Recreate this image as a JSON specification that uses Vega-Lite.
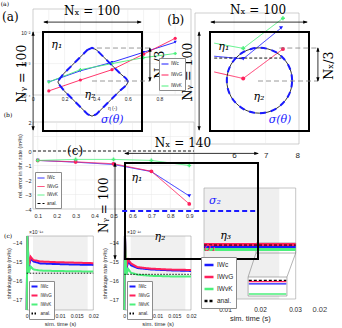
{
"$schema":"https://vega.github.io/schema/vega-lite/v6.json",
"width":342,"height":328,"autosize":"none","padding":0,"background":"white",
"config":{"view":{"stroke":null},
 "axis":{"labelFont":"Liberation Sans","titleFont":"Liberation Sans","labelColor":"#262626","titleColor":"#262626","domain":false,"grid":false,"tickSize":0,"labelFlush":false,"labelOverlap":false,"labelPadding":1.5,"titleFontWeight":"normal"},
 "legend":{"orient":"none","title":null,"symbolType":"stroke","labelFont":"Liberation Sans","labelColor":"#262626","fillColor":"white","strokeColor":"#8c8c8c","labelOffset":2}},
"datasets":{
 "a":[{"s":"IWc","x":0.1,"y":0.00026},{"s":"IWc","x":0.3,"y":0.00059},{"s":"IWc","x":0.5,"y":0.0011},{"s":"IWc","x":0.7,"y":0.0023},{"s":"IWc","x":0.9,"y":0.0048},
  {"s":"IWvG","x":0.1,"y":0.000135},{"s":"IWvG","x":0.3,"y":0.0003},{"s":"IWvG","x":0.5,"y":0.00064},{"s":"IWvG","x":0.7,"y":0.002},{"s":"IWvG","x":0.9,"y":0.0064},
  {"s":"IWvK","x":0.1,"y":0.00026},{"s":"IWvK","x":0.3,"y":0.00064},{"s":"IWvK","x":0.5,"y":0.001},{"s":"IWvK","x":0.7,"y":0.00155},{"s":"IWvK","x":0.9,"y":0.0021}],
 "gA":[{"d":"x","v":0.1},{"d":"x","v":0.2},{"d":"x","v":0.3},{"d":"x","v":0.4},{"d":"x","v":0.5},{"d":"x","v":0.6},{"d":"x","v":0.7},{"d":"x","v":0.8},{"d":"x","v":0.9},{"d":"y","v":0.001},{"d":"y","v":0.01}],
 "r":[{"s":"IWvK","x":5.37,"y":0.77},{"s":"IWvK","x":6.29,"y":0.73},{"s":"IWvK","x":7.55,"y":0.96},
  {"s":"IWc","x":5.37,"y":0.67},{"s":"IWc","x":6.29,"y":0.65},{"s":"IWc","x":7.49,"y":0.885},
  {"s":"IWvG","x":5.37,"y":0.55},{"s":"IWvG","x":6.29,"y":0.5},{"s":"IWvG","x":7.55,"y":0.725},
  {"s":"anal.","x":5.37,"y":0.656},{"s":"anal.","x":7.5,"y":0.656}],
 "gR":[{"v":6},{"v":7}],
 "b":[{"s":"IWc","x":0.1,"y":-0.65},{"s":"IWc","x":0.3,"y":-0.77},{"s":"IWc","x":0.5,"y":-0.93},{"s":"IWc","x":0.7,"y":-1.42},{"s":"IWc","x":0.9,"y":-3.1},
  {"s":"IWvG","x":0.1,"y":-0.65},{"s":"IWvG","x":0.3,"y":-0.75},{"s":"IWvG","x":0.5,"y":-0.88},{"s":"IWvG","x":0.7,"y":-1.4},{"s":"IWvG","x":0.9,"y":-3.65},
  {"s":"IWvK","x":0.1,"y":-0.65},{"s":"IWvK","x":0.3,"y":-0.58},{"s":"IWvK","x":0.5,"y":-0.58},{"s":"IWvK","x":0.7,"y":-0.65},{"s":"IWvK","x":0.9,"y":-1.0},
  {"s":"anal.","x":0.075,"y":0},{"s":"anal.","x":0.925,"y":0}],
 "gB":[{"d":"x","v":0.1},{"d":"x","v":0.2},{"d":"x","v":0.3},{"d":"x","v":0.4},{"d":"x","v":0.5},{"d":"x","v":0.6},{"d":"x","v":0.7},{"d":"x","v":0.8},{"d":"x","v":0.9},{"d":"y","v":-3},{"d":"y","v":-2},{"d":"y","v":-1},{"d":"y","v":0},{"d":"y","v":1}],
 "c":[{"s":"IWc","x":0,"y":-18},{"s":"IWc","x":0.0002,"y":-13},{"s":"IWc","x":0.0006,"y":-15.3},{"s":"IWc","x":0.0012,"y":-14.85},{"s":"IWc","x":0.002,"y":-15.0},{"s":"IWc","x":0.004,"y":-15.1},{"s":"IWc","x":0.008,"y":-15.13},{"s":"IWc","x":0.014,"y":-15.16},{"s":"IWc","x":0.02,"y":-15.18},
  {"s":"IWvG","x":0,"y":-18},{"s":"IWvG","x":0.0002,"y":-13},{"s":"IWvG","x":0.0006,"y":-15.2},{"s":"IWvG","x":0.0012,"y":-14.75},{"s":"IWvG","x":0.002,"y":-14.92},{"s":"IWvG","x":0.004,"y":-15.0},{"s":"IWvG","x":0.008,"y":-15.03},{"s":"IWvG","x":0.014,"y":-15.06},{"s":"IWvG","x":0.02,"y":-15.09},
  {"s":"IWvK","x":0,"y":-18},{"s":"IWvK","x":0.0002,"y":-13},{"s":"IWvK","x":0.0006,"y":-15.6},{"s":"IWvK","x":0.0012,"y":-15.27},{"s":"IWvK","x":0.002,"y":-15.42},{"s":"IWvK","x":0.004,"y":-15.48},{"s":"IWvK","x":0.008,"y":-15.5},{"s":"IWvK","x":0.014,"y":-15.52},{"s":"IWvK","x":0.02,"y":-15.53},
  {"s":"anal.","x":0,"y":-15.62},{"s":"anal.","x":0.02,"y":-15.62}],
 "c2":[{"s":"IWc","x":0,"y":-18},{"s":"IWc","x":0.0002,"y":-13},{"s":"IWc","x":0.0006,"y":-15.4},{"s":"IWc","x":0.0012,"y":-15.0},{"s":"IWc","x":0.002,"y":-15.2},{"s":"IWc","x":0.004,"y":-15.35},{"s":"IWc","x":0.008,"y":-15.42},{"s":"IWc","x":0.014,"y":-15.47},{"s":"IWc","x":0.02,"y":-15.5},
  {"s":"IWvG","x":0,"y":-18},{"s":"IWvG","x":0.0002,"y":-13},{"s":"IWvG","x":0.0006,"y":-15.3},{"s":"IWvG","x":0.0012,"y":-14.9},{"s":"IWvG","x":0.002,"y":-15.1},{"s":"IWvG","x":0.004,"y":-15.3},{"s":"IWvG","x":0.008,"y":-15.38},{"s":"IWvG","x":0.014,"y":-15.43},{"s":"IWvG","x":0.02,"y":-15.45},
  {"s":"IWvK","x":0,"y":-18},{"s":"IWvK","x":0.0002,"y":-13},{"s":"IWvK","x":0.0006,"y":-15.7},{"s":"IWvK","x":0.0012,"y":-15.4},{"s":"IWvK","x":0.002,"y":-15.6},{"s":"IWvK","x":0.004,"y":-15.7},{"s":"IWvK","x":0.008,"y":-15.76},{"s":"IWvK","x":0.014,"y":-15.79},{"s":"IWvK","x":0.02,"y":-15.8},
  {"s":"anal.","x":0,"y":-15.68},{"s":"anal.","x":0.02,"y":-15.68}],
 "d":[{"s":"IWc","x":0.004,"y":0.473},{"s":"IWc","x":0.0302,"y":0.473},{"s":"IWvG","x":0.004,"y":0.491},{"s":"IWvG","x":0.0302,"y":0.491},{"s":"IWvK","x":0.004,"y":0.446},{"s":"IWvK","x":0.0302,"y":0.446},{"s":"anal.","x":0.004,"y":0.486},{"s":"anal.","x":0.0302,"y":0.486}],
 "dinset":[{"s":"IWvK","y":0.045},{"s":"IWc","y":0.137},{"s":"IWvG","y":0.156},{"s":"anal.","y":0.168}],
 "dconn":[{"x":0.0166,"y":0.198,"x2":0.01886,"y2":0.414},{"x":0.0277,"y":0.198,"x2":0.0302,"y2":0.414}],
 "diamond":[{"i":0,"x":45,"y":82},{"i":1,"x":49.5,"y":84},{"i":2,"x":54,"y":82},{"i":3,"x":62,"y":74},{"i":4,"x":70,"y":66},{"i":5,"x":78,"y":58},{"i":6,"x":84,"y":53},{"i":7,"x":86,"y":49.5},{"i":8,"x":84,"y":46},{"i":9,"x":78,"y":41},{"i":10,"x":70,"y":33},{"i":11,"x":62,"y":25},{"i":12,"x":54,"y":17},{"i":13,"x":49.5,"y":15},{"i":14,"x":45,"y":17},{"i":15,"x":37,"y":25},{"i":16,"x":29,"y":33},{"i":17,"x":21,"y":41},{"i":18,"x":17,"y":46},{"i":19,"x":15,"y":49.5},{"i":20,"x":17,"y":53},{"i":21,"x":21,"y":58},{"i":22,"x":29,"y":66},{"i":23,"x":37,"y":74},{"i":24,"x":45,"y":82}],
 "circle":[{"i":0,"x":83,"y":51},{"i":1,"x":81.9,"y":59.5},{"i":2,"x":78.6,"y":67.5},{"i":3,"x":73.3,"y":74.3},{"i":4,"x":66.5,"y":79.6},{"i":5,"x":58.5,"y":82.9},{"i":6,"x":50,"y":84},{"i":7,"x":41.5,"y":82.9},{"i":8,"x":33.5,"y":79.6},{"i":9,"x":26.7,"y":74.3},{"i":10,"x":21.4,"y":67.5},{"i":11,"x":18.1,"y":59.5},{"i":12,"x":17,"y":51},{"i":13,"x":18.1,"y":42.5},{"i":14,"x":21.4,"y":34.5},{"i":15,"x":26.7,"y":27.7},{"i":16,"x":33.5,"y":22.4},{"i":17,"x":41.5,"y":19.1},{"i":18,"x":50,"y":18},{"i":19,"x":58.5,"y":19.1},{"i":20,"x":66.5,"y":22.4},{"i":21,"x":73.3,"y":27.7},{"i":22,"x":78.6,"y":34.5},{"i":23,"x":81.9,"y":42.5},{"i":24,"x":83,"y":51}],
 "tA":[{"k":"eta","x":14,"y":87,"t":"η₁"},{"k":"eta","x":47.5,"y":36,"t":"η₂"},{"k":"sig","x":70,"y":11,"t":"σ(θ)"},{"k":"big","x":49.5,"y":121,"t":"Nₓ = 100"},{"k":"big","x":-33,"y":115,"t":"(a)"},{"k":"rot","x":-21,"y":58,"t":"Nᵧ = 100"},{"k":"rot","x":118,"y":67,"t":"Nₓ/3"},{"k":"small","x":-38.5,"y":128,"t":"(a)"}],
 "tB":[{"k":"eta","x":14,"y":85,"t":"η₁"},{"k":"eta","x":49.5,"y":34,"t":"η₂"},{"k":"sig","x":70.7,"y":11,"t":"σ(θ)"},{"k":"big","x":48.5,"y":122,"t":"Nₓ = 100"},{"k":"big","x":-34.6,"y":112,"t":"(b)"},{"k":"rot","x":-22,"y":60,"t":"Nᵧ = 100"},{"k":"rot","x":120,"y":66,"t":"Nₓ/3"}],
 "tC":[{"k":"eta","x":12.6,"y":84.4,"t":"η₁"},{"k":"eta","x":36.8,"y":23,"t":"η₂"},{"k":"eta","x":106,"y":24,"t":"η₃"},{"k":"sig","x":94.7,"y":60.4,"t":"σ₂"},{"k":"sigr","x":89.5,"y":11.5,"t":"σ₁"},{"k":"big","x":61,"y":120.8,"t":"Nₓ = 140"},{"k":"big","x":-52.6,"y":112.5,"t":"(c)"},{"k":"rot","x":-22,"y":56,"t":"Nᵧ = 100"}],
 "rA":[{"k":"dash","x":54.5,"y":83.8,"x2":108,"y2":83.8},{"k":"dash","x":49.5,"y":50.5,"x2":108,"y2":50.5},{"k":"arrow","x":1,"y":110,"x2":99,"y2":110},{"k":"arrow","x":-10,"y":100,"x2":-10,"y2":1},{"k":"arrow","x":108,"y":83.8,"x2":108,"y2":50.5}],
 "hA":[{"h":"L","x":2.5,"y":110},{"h":"R","x":97.5,"y":110},{"h":"U","x":-10,"y":98.5},{"h":"D","x":-10,"y":2.5},{"h":"U","x":108,"y":82.3},{"h":"D","x":108,"y":52}],
 "rB":[{"k":"dash","x":70,"y":83.8,"x2":109,"y2":83.8},{"k":"dash","x":48.5,"y":50.5,"x2":109,"y2":50.5},{"k":"arrow","x":1,"y":110,"x2":98,"y2":110},{"k":"arrow","x":-11,"y":100,"x2":-11,"y2":1},{"k":"arrow","x":109,"y":83.8,"x2":109,"y2":50.5}],
 "hB":[{"h":"L","x":2.5,"y":110},{"h":"R","x":96.5,"y":110},{"h":"U","x":-11,"y":98.5},{"h":"D","x":-11,"y":2.5},{"h":"U","x":109,"y":82.3},{"h":"D","x":109,"y":52}],
 "rC":[{"k":"sig","x":-3,"y":50,"x2":140,"y2":50},{"k":"arrow","x":0,"y":110,"x2":140,"y2":110},{"k":"arrow","x":-10.5,"y":100,"x2":-10.5,"y2":0}],
 "hC":[{"h":"L","x":1.5,"y":110},{"h":"R","x":138.5,"y":110},{"h":"U","x":-10.5,"y":98.5},{"h":"D","x":-10.5,"y":1.5}]
},
"layer":[
 {"layer":[
  {"data":{"values":[{}]},"mark":{"type":"rect","filled":false,"stroke":"#b0b0b0","strokeWidth":0.6},
   "encoding":{"x":{"datum":0,"type":"quantitative","scale":{"domain":[0,1],"range":[33,191],"nice":false,"zero":false},"axis":{"orient":"bottom","offset":-233,"values":[0,0.1,0.2,0.3,0.4,0.5,0.6,0.7,0.8,0.9,1],"format":"~g","labelFontSize":5,"labelPadding":1.5,"title":"η (-)","titleFontSize":5,"titlePadding":4}},
    "x2":{"datum":1},
    "y":{"datum":0.0001,"type":"quantitative","scale":{"type":"log","domain":[0.0001,0.055],"range":[95,9],"nice":false},"axis":{"orient":"left","offset":-33,"values":[0.0001,0.001,0.01],"labelExpr":"datum.value < 0.0005 ? '10⁻⁴' : (datum.value < 0.005 ? '10⁻³' : '10⁻²')","labelFontSize":5,"labelPadding":3,"title":null}},
    "y2":{"datum":0.055}}},
  {"data":{"name":"gA"},"transform":[{"filter":"datum.d == 'x'"}],"mark":{"type":"rule","stroke":"#e6e6e6","strokeWidth":0.5},
   "encoding":{"x":{"field":"v","type":"quantitative","scale":{"domain":[0,1],"range":[33,191],"nice":false,"zero":false}},
    "y":{"datum":0.0001,"type":"quantitative","scale":{"type":"log","domain":[0.0001,0.055],"range":[95,9],"nice":false}},"y2":{"datum":0.055}}},
  {"data":{"name":"gA"},"transform":[{"filter":"datum.d == 'y'"}],"mark":{"type":"rule","stroke":"#e6e6e6","strokeWidth":0.5},
   "encoding":{"y":{"field":"v","type":"quantitative","scale":{"type":"log","domain":[0.0001,0.055],"range":[95,9],"nice":false}},
    "x":{"datum":0,"type":"quantitative","scale":{"domain":[0,1],"range":[33,191],"nice":false,"zero":false}},"x2":{"datum":1}}},
  {"data":{"name":"a"},"mark":{"type":"line","strokeWidth":0.9},
   "encoding":{"x":{"field":"x","type":"quantitative","scale":{"domain":[0,1],"range":[33,191],"nice":false,"zero":false}},
    "y":{"field":"y","type":"quantitative","scale":{"type":"log","domain":[0.0001,0.055],"range":[95,9],"nice":false}},
    "color":{"field":"s","type":"nominal","scale":{"domain":["IWc","IWvG","IWvK"],"range":["#1a1aff","#ff1f5b","#4cf07c"]},"legend":{"legendX":159,"legendY":58,"labelFontSize":4.5,"rowPadding":5,"padding":2,"symbolSize":49,"symbolStrokeWidth":1}}}},
  {"data":{"name":"a"},"transform":[{"filter":"datum.s == 'IWc'"}],"mark":{"type":"point","filled":true,"size":10,"opacity":1,"shape":"triangle-down","color":"#1a1aff"},
   "encoding":{"x":{"field":"x","type":"quantitative","scale":{"domain":[0,1],"range":[33,191],"nice":false,"zero":false}},
    "y":{"field":"y","type":"quantitative","scale":{"type":"log","domain":[0.0001,0.055],"range":[95,9],"nice":false}}}},
  {"data":{"name":"a"},"transform":[{"filter":"datum.s == 'IWvG'"}],"mark":{"type":"point","filled":true,"size":10,"opacity":1,"shape":"circle","color":"#ff1f5b"},
   "encoding":{"x":{"field":"x","type":"quantitative","scale":{"domain":[0,1],"range":[33,191],"nice":false,"zero":false}},
    "y":{"field":"y","type":"quantitative","scale":{"type":"log","domain":[0.0001,0.055],"range":[95,9],"nice":false}}}},
  {"data":{"name":"a"},"transform":[{"filter":"datum.s == 'IWvK'"}],"mark":{"type":"point","filled":true,"size":10,"opacity":1,"shape":"cross","color":"#4cf07c"},
   "encoding":{"x":{"field":"x","type":"quantitative","scale":{"domain":[0,1],"range":[33,191],"nice":false,"zero":false}},
    "y":{"field":"y","type":"quantitative","scale":{"type":"log","domain":[0.0001,0.055],"range":[95,9],"nice":false}}}}
 ]},
 {"layer":[
  {"data":{"values":[{}]},"mark":{"type":"rect","filled":false,"stroke":"#b0b0b0","strokeWidth":0.6},
   "encoding":{"x":{"datum":4.76,"type":"quantitative","scale":{"domain":[4.76,8.06],"range":[195,299],"nice":false,"zero":false},"axis":{"orient":"bottom","offset":-184,"values":[6,7,8],"format":"d","labelFontSize":8,"labelPadding":7,"title":null}},
    "x2":{"datum":8.06},
    "y":{"datum":0,"type":"quantitative","scale":{"domain":[0,1],"range":[144,13],"nice":false,"zero":false},"axis":null},
    "y2":{"datum":1}}},
  {"data":{"name":"gR"},"mark":{"type":"rule","stroke":"#e6e6e6","strokeWidth":0.5},
   "encoding":{"x":{"field":"v","type":"quantitative","scale":{"domain":[4.76,8.06],"range":[195,299],"nice":false,"zero":false}},
    "y":{"datum":0,"type":"quantitative","scale":{"domain":[0,1],"range":[144,13],"nice":false,"zero":false},"axis":null},"y2":{"datum":1}}},
  {"data":{"name":"r"},"mark":{"type":"line","strokeWidth":0.9},
   "encoding":{"x":{"field":"x","type":"quantitative","scale":{"domain":[4.76,8.06],"range":[195,299],"nice":false,"zero":false}},
    "y":{"field":"y","type":"quantitative","scale":{"domain":[0,1],"range":[144,13],"nice":false,"zero":false},"axis":null},
    "color":{"field":"s","type":"nominal","scale":{"domain":["IWc","IWvG","IWvK","anal."],"range":["#1a1aff","#ff1f5b","#4cf07c","#000000"]},"legend":null},
    "strokeDash":{"field":"s","type":"nominal","scale":{"domain":["IWc","IWvG","IWvK","anal."],"range":[[1,0],[1,0],[1,0],[3,2]]},"legend":null}}},
  {"data":{"name":"r"},"transform":[{"filter":"datum.x > 6 && datum.s == 'IWc'"}],"mark":{"type":"point","filled":true,"size":16,"opacity":1,"shape":"triangle-down","color":"#1a1aff"},
   "encoding":{"x":{"field":"x","type":"quantitative","scale":{"domain":[4.76,8.06],"range":[195,299],"nice":false,"zero":false}},
    "y":{"field":"y","type":"quantitative","scale":{"domain":[0,1],"range":[144,13],"nice":false,"zero":false},"axis":null}}},
  {"data":{"name":"r"},"transform":[{"filter":"datum.x > 6 && datum.s == 'IWvG'"}],"mark":{"type":"point","filled":true,"size":16,"opacity":1,"shape":"circle","color":"#ff1f5b"},
   "encoding":{"x":{"field":"x","type":"quantitative","scale":{"domain":[4.76,8.06],"range":[195,299],"nice":false,"zero":false}},
    "y":{"field":"y","type":"quantitative","scale":{"domain":[0,1],"range":[144,13],"nice":false,"zero":false},"axis":null}}},
  {"data":{"name":"r"},"transform":[{"filter":"datum.x > 6 && datum.s == 'IWvK'"}],"mark":{"type":"point","filled":true,"size":16,"opacity":1,"shape":"cross","color":"#4cf07c"},
   "encoding":{"x":{"field":"x","type":"quantitative","scale":{"domain":[4.76,8.06],"range":[195,299],"nice":false,"zero":false}},
    "y":{"field":"y","type":"quantitative","scale":{"domain":[0,1],"range":[144,13],"nice":false,"zero":false},"axis":null}}}
 ]},
 {"layer":[
  {"data":{"values":[{}]},"mark":{"type":"rect","filled":false,"stroke":"#b0b0b0","strokeWidth":0.6},
   "encoding":{"x":{"datum":0.075,"type":"quantitative","scale":{"domain":[0.075,0.925],"range":[33,194],"nice":false,"zero":false},"axis":{"orient":"bottom","offset":-119,"values":[0.1,0.2,0.3,0.4,0.5,0.6,0.7,0.8,0.9],"format":".1f","labelFontSize":5.5,"labelPadding":4,"title":null}},
    "x2":{"datum":0.925},
    "y":{"datum":-4,"type":"quantitative","scale":{"domain":[-4,2],"range":[209,122],"nice":false,"zero":false},"axis":{"orient":"left","offset":-33,"values":[-4,-3,-2,-1,0,1,2],"format":"d","labelExpr":"datum.value == 1 ? '' : datum.label","labelFontSize":5.5,"labelPadding":2,"title":"rel. error in shr. rate (m²/s)","titleFontSize":5.5,"titlePadding":2}},
    "y2":{"datum":2}}},
  {"data":{"name":"gB"},"transform":[{"filter":"datum.d == 'x'"}],"mark":{"type":"rule","stroke":"#e6e6e6","strokeWidth":0.5},
   "encoding":{"x":{"field":"v","type":"quantitative","scale":{"domain":[0.075,0.925],"range":[33,194],"nice":false,"zero":false}},
    "y":{"datum":-4,"type":"quantitative","scale":{"domain":[-4,2],"range":[209,122],"nice":false,"zero":false}},"y2":{"datum":2}}},
  {"data":{"name":"gB"},"transform":[{"filter":"datum.d == 'y'"}],"mark":{"type":"rule","stroke":"#e6e6e6","strokeWidth":0.5},
   "encoding":{"y":{"field":"v","type":"quantitative","scale":{"domain":[-4,2],"range":[209,122],"nice":false,"zero":false}},
    "x":{"datum":0.075,"type":"quantitative","scale":{"domain":[0.075,0.925],"range":[33,194],"nice":false,"zero":false}},"x2":{"datum":0.925}}},
  {"data":{"name":"b"},"mark":{"type":"line","strokeWidth":0.9},
   "encoding":{"x":{"field":"x","type":"quantitative","scale":{"domain":[0.075,0.925],"range":[33,194],"nice":false,"zero":false}},
    "y":{"field":"y","type":"quantitative","scale":{"domain":[-4,2],"range":[209,122],"nice":false,"zero":false}},
    "color":{"field":"s","type":"nominal","scale":{"domain":["IWc","IWvG","IWvK","anal."],"range":["#1a1aff","#ff1f5b","#4cf07c","#000000"]},"legend":{"legendX":35,"legendY":172,"labelFontSize":4.5,"rowPadding":2.5,"padding":2,"symbolSize":49,"symbolStrokeWidth":1}},
    "strokeDash":{"field":"s","type":"nominal","scale":{"domain":["IWc","IWvG","IWvK","anal."],"range":[[1,0],[1,0],[1,0],[3,2]]},"legend":{"legendX":35,"legendY":172,"labelFontSize":4.5,"rowPadding":2.5,"padding":2,"symbolSize":49,"symbolStrokeWidth":1}}}},
  {"data":{"name":"b"},"transform":[{"filter":"datum.s == 'IWc'"}],"mark":{"type":"point","filled":true,"size":14,"opacity":1,"shape":"triangle-down","color":"#1a1aff"},
   "encoding":{"x":{"field":"x","type":"quantitative","scale":{"domain":[0.075,0.925],"range":[33,194],"nice":false,"zero":false}},
    "y":{"field":"y","type":"quantitative","scale":{"domain":[-4,2],"range":[209,122],"nice":false,"zero":false}}}},
  {"data":{"name":"b"},"transform":[{"filter":"datum.s == 'IWvG'"}],"mark":{"type":"point","filled":true,"size":14,"opacity":1,"shape":"circle","color":"#ff1f5b"},
   "encoding":{"x":{"field":"x","type":"quantitative","scale":{"domain":[0.075,0.925],"range":[33,194],"nice":false,"zero":false}},
    "y":{"field":"y","type":"quantitative","scale":{"domain":[-4,2],"range":[209,122],"nice":false,"zero":false}}}},
  {"data":{"name":"b"},"transform":[{"filter":"datum.s == 'IWvK'"}],"mark":{"type":"point","filled":true,"size":14,"opacity":1,"shape":"cross","color":"#4cf07c"},
   "encoding":{"x":{"field":"x","type":"quantitative","scale":{"domain":[0.075,0.925],"range":[33,194],"nice":false,"zero":false}},
    "y":{"field":"y","type":"quantitative","scale":{"domain":[-4,2],"range":[209,122],"nice":false,"zero":false}}}},
  {"data":{"values":[{}]},"mark":{"type":"text","text":"(b)","font":"DejaVu Serif","fontSize":6},
   "encoding":{"x":{"datum":-0.057,"type":"quantitative","scale":{"domain":[0.075,0.925],"range":[33,194],"nice":false,"zero":false}},
    "y":{"datum":2.48,"type":"quantitative","scale":{"domain":[-4,2],"range":[209,122],"nice":false,"zero":false}}}}
 ]},
 {"layer":[
  {"data":{"values":[{}]},"mark":{"type":"rect","fill":"#f0f0f0"},
   "encoding":{"x":{"datum":0.0019,"type":"quantitative","scale":{"domain":[0,0.02],"range":[26.7,93.3],"nice":false,"zero":false},"axis":{"orient":"bottom","offset":-18,"values":[0,0.005,0.01,0.015,0.02],"format":"~g","labelFontSize":5.2,"labelPadding":3,"title":"sim. time (s)","titleFontSize":5.8,"titlePadding":2}},
    "x2":{"datum":0.0183},
    "y":{"datum":-17.57,"type":"quantitative","scale":{"domain":[-17.57,-13.65],"range":[310,236],"nice":false,"zero":false,"clamp":true},"axis":{"orient":"left","offset":-26.7,"values":[-17,-16,-15,-14],"format":"d","labelFontSize":5.5,"labelPadding":5,"title":"shrinkage rate (m²/s)","titleFontSize":5.5,"titlePadding":0.5}},
    "y2":{"datum":-13.65}}},
  {"data":{"values":[{}]},"mark":{"type":"rect","filled":false,"stroke":"#a0a0a0","strokeWidth":0.6},
   "encoding":{"x":{"datum":0,"type":"quantitative","scale":{"domain":[0,0.02],"range":[26.7,93.3],"nice":false,"zero":false}},
    "x2":{"datum":0.02},
    "y":{"datum":-17.57,"type":"quantitative","scale":{"domain":[-17.57,-13.65],"range":[310,236],"nice":false,"zero":false,"clamp":true}},
    "y2":{"datum":-13.65}}},
  {"data":{"name":"c"},"transform":[{"filter":"datum.s != 'anal.'"}],"mark":{"type":"line","strokeWidth":2},
   "encoding":{"x":{"field":"x","type":"quantitative","scale":{"domain":[0,0.02],"range":[26.7,93.3],"nice":false,"zero":false}},
    "y":{"field":"y","type":"quantitative","scale":{"domain":[-17.57,-13.65],"range":[310,236],"nice":false,"zero":false,"clamp":true}},
    "color":{"field":"s","type":"nominal","scale":{"domain":["IWc","IWvG","IWvK","anal."],"range":["#1a1aff","#ff1f5b","#4cf07c","#000000"]},"legend":{"legendX":29,"legendY":281,"labelFontSize":4.5,"rowPadding":1,"padding":1.5,"symbolSize":36,"symbolStrokeWidth":2}},
    "strokeDash":{"field":"s","type":"nominal","scale":{"domain":["IWc","IWvG","IWvK","anal."],"range":[[1,0],[1,0],[1,0],[1.5,1.5]]},"legend":{"legendX":29,"legendY":281,"labelFontSize":4.5,"rowPadding":1,"padding":1.5,"symbolSize":36,"symbolStrokeWidth":2}}}},
  {"data":{"name":"c"},"transform":[{"filter":"datum.s == 'anal.'"}],"mark":{"type":"line","strokeWidth":0.9},
   "encoding":{"x":{"field":"x","type":"quantitative","scale":{"domain":[0,0.02],"range":[26.7,93.3],"nice":false,"zero":false}},
    "y":{"field":"y","type":"quantitative","scale":{"domain":[-17.57,-13.65],"range":[310,236],"nice":false,"zero":false,"clamp":true}},
    "color":{"field":"s","type":"nominal","scale":{"domain":["IWc","IWvG","IWvK","anal."],"range":["#1a1aff","#ff1f5b","#4cf07c","#000000"]},"legend":{"legendX":29,"legendY":281,"labelFontSize":4.5,"rowPadding":1,"padding":1.5,"symbolSize":36,"symbolStrokeWidth":2}},
    "strokeDash":{"field":"s","type":"nominal","scale":{"domain":["IWc","IWvG","IWvK","anal."],"range":[[1,0],[1,0],[1,0],[1.5,1.5]]},"legend":{"legendX":29,"legendY":281,"labelFontSize":4.5,"rowPadding":1,"padding":1.5,"symbolSize":36,"symbolStrokeWidth":2}}}},
  {"data":{"values":[{}]},"mark":{"type":"text","text":"(c)","font":"DejaVu Serif","fontSize":6},
   "encoding":{"x":{"datum":-0.0056,"type":"quantitative","scale":{"domain":[0,0.02],"range":[26.7,93.3],"nice":false,"zero":false}},
    "y":{"datum":-13.65,"type":"quantitative","scale":{"domain":[-17.57,-13.65],"range":[310,236],"nice":false,"zero":false,"clamp":true}}}},
  {"data":{"values":[{}]},"mark":{"type":"text","text":"×10⁻¹⁶","font":"Liberation Sans","fontSize":5,"align":"left","dy":-4,"color":"#262626"},
   "encoding":{"x":{"datum":0.0007,"type":"quantitative","scale":{"domain":[0,0.02],"range":[26.7,93.3],"nice":false,"zero":false}},
    "y":{"datum":-13.65,"type":"quantitative","scale":{"domain":[-17.57,-13.65],"range":[310,236],"nice":false,"zero":false,"clamp":true}}}}
 ]},
 {"layer":[
  {"data":{"values":[{}]},"mark":{"type":"rect","fill":"#f0f0f0"},
   "encoding":{"x":{"datum":0.0019,"type":"quantitative","scale":{"domain":[0,0.02],"range":[124.3,191],"nice":false,"zero":false},"axis":{"orient":"bottom","offset":-18,"values":[0,0.005,0.01,0.015,0.02],"format":"~g","labelFontSize":5.2,"labelPadding":3,"title":"sim. time (s)","titleFontSize":5.8,"titlePadding":2}},
    "x2":{"datum":0.0183},
    "y":{"datum":-17.57,"type":"quantitative","scale":{"domain":[-17.57,-13.65],"range":[310,236],"nice":false,"zero":false,"clamp":true},"axis":{"orient":"left","offset":-124.3,"values":[-17,-16,-15,-14],"format":"d","labelFontSize":5.5,"labelPadding":6,"title":"shrinkage rate (m²/s)","titleFontSize":5.5,"titlePadding":1}},
    "y2":{"datum":-13.65}}},
  {"data":{"values":[{}]},"mark":{"type":"rect","filled":false,"stroke":"#a0a0a0","strokeWidth":0.6},
   "encoding":{"x":{"datum":0,"type":"quantitative","scale":{"domain":[0,0.02],"range":[124.3,191],"nice":false,"zero":false}},
    "x2":{"datum":0.02},
    "y":{"datum":-17.57,"type":"quantitative","scale":{"domain":[-17.57,-13.65],"range":[310,236],"nice":false,"zero":false,"clamp":true}},
    "y2":{"datum":-13.65}}},
  {"data":{"name":"c2"},"transform":[{"filter":"datum.s != 'anal.'"}],"mark":{"type":"line","strokeWidth":2},
   "encoding":{"x":{"field":"x","type":"quantitative","scale":{"domain":[0,0.02],"range":[124.3,191],"nice":false,"zero":false}},
    "y":{"field":"y","type":"quantitative","scale":{"domain":[-17.57,-13.65],"range":[310,236],"nice":false,"zero":false,"clamp":true}},
    "color":{"field":"s","type":"nominal","scale":{"domain":["IWc","IWvG","IWvK","anal."],"range":["#1a1aff","#ff1f5b","#4cf07c","#000000"]},"legend":{"legendX":127,"legendY":281,"labelFontSize":4.5,"rowPadding":1,"padding":1.5,"symbolSize":36,"symbolStrokeWidth":2}},
    "strokeDash":{"field":"s","type":"nominal","scale":{"domain":["IWc","IWvG","IWvK","anal."],"range":[[1,0],[1,0],[1,0],[1.5,1.5]]},"legend":{"legendX":127,"legendY":281,"labelFontSize":4.5,"rowPadding":1,"padding":1.5,"symbolSize":36,"symbolStrokeWidth":2}}}},
  {"data":{"name":"c2"},"transform":[{"filter":"datum.s == 'anal.'"}],"mark":{"type":"line","strokeWidth":0.9},
   "encoding":{"x":{"field":"x","type":"quantitative","scale":{"domain":[0,0.02],"range":[124.3,191],"nice":false,"zero":false}},
    "y":{"field":"y","type":"quantitative","scale":{"domain":[-17.57,-13.65],"range":[310,236],"nice":false,"zero":false,"clamp":true}},
    "color":{"field":"s","type":"nominal","scale":{"domain":["IWc","IWvG","IWvK","anal."],"range":["#1a1aff","#ff1f5b","#4cf07c","#000000"]},"legend":{"legendX":127,"legendY":281,"labelFontSize":4.5,"rowPadding":1,"padding":1.5,"symbolSize":36,"symbolStrokeWidth":2}},
    "strokeDash":{"field":"s","type":"nominal","scale":{"domain":["IWc","IWvG","IWvK","anal."],"range":[[1,0],[1,0],[1,0],[1.5,1.5]]},"legend":{"legendX":127,"legendY":281,"labelFontSize":4.5,"rowPadding":1,"padding":1.5,"symbolSize":36,"symbolStrokeWidth":2}}}},
  {"data":{"values":[{}]},"mark":{"type":"text","text":"×10⁻¹⁶","font":"Liberation Sans","fontSize":5,"align":"left","dy":-4,"color":"#262626"},
   "encoding":{"x":{"datum":0.0008,"type":"quantitative","scale":{"domain":[0,0.02],"range":[124.3,191],"nice":false,"zero":false}},
    "y":{"datum":-13.65,"type":"quantitative","scale":{"domain":[-17.57,-13.65],"range":[310,236],"nice":false,"zero":false,"clamp":true}}}}
 ]},
 {"layer":[
  {"data":{"values":[{}]},"mark":{"type":"rect","fill":"#efefef"},
   "encoding":{"x":{"datum":0.004,"type":"quantitative","scale":{"domain":[0.004,0.0302],"range":[204,295.7],"nice":false,"zero":false},"axis":{"orient":"bottom","offset":-29,"values":[0.01,0.02,0.03],"format":"~g","labelFontSize":6.5,"labelPadding":7.5,"title":"sim. time (s)","titleFontSize":7.5,"titlePadding":1.5}},
    "x2":{"datum":0.0255},
    "y":{"datum":0,"type":"quantitative","scale":{"domain":[0,1],"range":[299,188],"nice":false,"zero":false},"axis":null},
    "y2":{"datum":1}}},
  {"data":{"values":[{}]},"mark":{"type":"rect","filled":false,"stroke":"#a0a0a0","strokeWidth":0.6},
   "encoding":{"x":{"datum":0.004,"type":"quantitative","scale":{"domain":[0.004,0.0302],"range":[204,295.7],"nice":false,"zero":false}},
    "x2":{"datum":0.0302},
    "y":{"datum":0,"type":"quantitative","scale":{"domain":[0,1],"range":[299,188],"nice":false,"zero":false},"axis":null},
    "y2":{"datum":1}}},
  {"data":{"values":[{}]},"mark":{"type":"rect","filled":false,"stroke":"#808080","strokeWidth":0.6},
   "encoding":{"x":{"datum":0.01886,"type":"quantitative","scale":{"domain":[0.004,0.0302],"range":[204,295.7],"nice":false,"zero":false}},
    "x2":{"datum":0.0302},
    "y":{"datum":0.414,"type":"quantitative","scale":{"domain":[0,1],"range":[299,188],"nice":false,"zero":false},"axis":null},
    "y2":{"datum":0.505}}},
  {"data":{"name":"dconn"},"mark":{"type":"rule","stroke":"#808080","strokeWidth":0.6},
   "encoding":{"x":{"field":"x","type":"quantitative","scale":{"domain":[0.004,0.0302],"range":[204,295.7],"nice":false,"zero":false}},
    "x2":{"field":"x2"},
    "y":{"field":"y","type":"quantitative","scale":{"domain":[0,1],"range":[299,188],"nice":false,"zero":false},"axis":null},
    "y2":{"field":"y2"}}},
  {"data":{"name":"d"},"transform":[{"filter":"datum.s != 'anal.'"}],"mark":{"type":"line","strokeWidth":3},
   "encoding":{"x":{"field":"x","type":"quantitative","scale":{"domain":[0.004,0.0302],"range":[204,295.7],"nice":false,"zero":false}},
    "y":{"field":"y","type":"quantitative","scale":{"domain":[0,1],"range":[299,188],"nice":false,"zero":false},"axis":null},
    "color":{"field":"s","type":"nominal","scale":{"domain":["IWc","IWvG","IWvK","anal."],"range":["#1a1aff","#ff1f5b","#4cf07c","#000000"]},"legend":{"legendX":201,"legendY":257,"labelFontSize":6.5,"rowPadding":1,"padding":2,"symbolSize":81,"symbolStrokeWidth":2.5}},
    "strokeDash":{"field":"s","type":"nominal","scale":{"domain":["IWc","IWvG","IWvK","anal."],"range":[[1,0],[1,0],[1,0],[3,2]]},"legend":{"legendX":201,"legendY":257,"labelFontSize":6.5,"rowPadding":1,"padding":2,"symbolSize":81,"symbolStrokeWidth":2.5}}}},
  {"data":{"name":"d"},"transform":[{"filter":"datum.s == 'anal.'"}],"mark":{"type":"line","strokeWidth":1},
   "encoding":{"x":{"field":"x","type":"quantitative","scale":{"domain":[0.004,0.0302],"range":[204,295.7],"nice":false,"zero":false}},
    "y":{"field":"y","type":"quantitative","scale":{"domain":[0,1],"range":[299,188],"nice":false,"zero":false},"axis":null},
    "color":{"field":"s","type":"nominal","scale":{"domain":["IWc","IWvG","IWvK","anal."],"range":["#1a1aff","#ff1f5b","#4cf07c","#000000"]},"legend":{"legendX":201,"legendY":257,"labelFontSize":6.5,"rowPadding":1,"padding":2,"symbolSize":81,"symbolStrokeWidth":2.5}},
    "strokeDash":{"field":"s","type":"nominal","scale":{"domain":["IWc","IWvG","IWvK","anal."],"range":[[1,0],[1,0],[1,0],[3,2]]},"legend":{"legendX":201,"legendY":257,"labelFontSize":6.5,"rowPadding":1,"padding":2,"symbolSize":81,"symbolStrokeWidth":2.5}}}},
  {"data":{"values":[{}]},"mark":{"type":"rect","fill":"white","stroke":"#808080","strokeWidth":0.6},
   "encoding":{"x":{"datum":0.0166,"type":"quantitative","scale":{"domain":[0.004,0.0302],"range":[204,295.7],"nice":false,"zero":false}},
    "x2":{"datum":0.0277},
    "y":{"datum":0.027,"type":"quantitative","scale":{"domain":[0,1],"range":[299,188],"nice":false,"zero":false},"axis":null},
    "y2":{"datum":0.198}}},
  {"data":{"name":"dinset"},"mark":{"type":"rule","strokeWidth":1.3},
   "encoding":{"x":{"datum":0.0168,"type":"quantitative","scale":{"domain":[0.004,0.0302],"range":[204,295.7],"nice":false,"zero":false}},
    "x2":{"datum":0.0275},
    "y":{"field":"y","type":"quantitative","scale":{"domain":[0,1],"range":[299,188],"nice":false,"zero":false},"axis":null},
    "color":{"field":"s","type":"nominal","scale":{"domain":["IWc","IWvG","IWvK","anal."],"range":["#1a1aff","#ff1f5b","#4cf07c","#000000"]},"legend":null},
    "strokeDash":{"field":"s","type":"nominal","scale":{"domain":["IWc","IWvG","IWvK","anal."],"range":[[1,0],[1,0],[1,0],[3,2]]},"legend":null}}},
  {"data":{"values":[{}]},"mark":{"type":"text","text":"0.02","font":"Liberation Sans","fontSize":7.5,"color":"#404040"},
   "encoding":{"x":{"datum":0.0371,"type":"quantitative","scale":{"domain":[0.004,0.0302],"range":[204,295.7],"nice":false,"zero":false}},
    "y":{"datum":-0.1,"type":"quantitative","scale":{"domain":[0,1],"range":[299,188],"nice":false,"zero":false},"axis":null}}}
 ]},
 {"layer":[
  {"data":{"values":[{}]},"mark":{"type":"rect","filled":false,"stroke":"black","strokeWidth":2},
   "encoding":{"x":{"datum":0,"type":"quantitative","scale":{"domain":[0,100],"range":[43,142],"nice":false,"zero":false},"axis":null},"x2":{"datum":100},
    "y":{"datum":0,"type":"quantitative","scale":{"domain":[0,100],"range":[131,32],"nice":false,"zero":false},"axis":null},"y2":{"datum":100}}},
  {"data":{"name":"diamond"},"mark":{"type":"line","stroke":"black","strokeWidth":0.8},
   "encoding":{"x":{"field":"x","type":"quantitative","scale":{"domain":[0,100],"range":[43,142],"nice":false,"zero":false},"axis":null},
    "y":{"field":"y","type":"quantitative","scale":{"domain":[0,100],"range":[131,32],"nice":false,"zero":false},"axis":null},"order":{"field":"i","type":"quantitative"}}},
  {"data":{"name":"diamond"},"mark":{"type":"line","stroke":"#1a1aff","strokeWidth":2,"strokeDash":[7,5]},
   "encoding":{"x":{"field":"x","type":"quantitative","scale":{"domain":[0,100],"range":[43,142],"nice":false,"zero":false},"axis":null},
    "y":{"field":"y","type":"quantitative","scale":{"domain":[0,100],"range":[131,32],"nice":false,"zero":false},"axis":null},"order":{"field":"i","type":"quantitative"}}},
  {"data":{"name":"rA"},"transform":[{"filter":"datum.k == 'dash'"}],"mark":{"type":"rule","stroke":"#808080","strokeWidth":0.8,"strokeDash":[5,3]},
   "encoding":{"x":{"field":"x","type":"quantitative","scale":{"domain":[0,100],"range":[43,142],"nice":false,"zero":false},"axis":null},"x2":{"field":"x2"},
    "y":{"field":"y","type":"quantitative","scale":{"domain":[0,100],"range":[131,32],"nice":false,"zero":false},"axis":null},"y2":{"field":"y2"}}},
  {"data":{"name":"rA"},"transform":[{"filter":"datum.k == 'arrow'"}],"mark":{"type":"rule","stroke":"black","strokeWidth":0.8},
   "encoding":{"x":{"field":"x","type":"quantitative","scale":{"domain":[0,100],"range":[43,142],"nice":false,"zero":false},"axis":null},"x2":{"field":"x2"},
    "y":{"field":"y","type":"quantitative","scale":{"domain":[0,100],"range":[131,32],"nice":false,"zero":false},"axis":null},"y2":{"field":"y2"}}},
  {"data":{"name":"hA"},"mark":{"type":"point","filled":true,"color":"black","size":22,"opacity":1},
   "encoding":{"x":{"field":"x","type":"quantitative","scale":{"domain":[0,100],"range":[43,142],"nice":false,"zero":false},"axis":null},
    "y":{"field":"y","type":"quantitative","scale":{"domain":[0,100],"range":[131,32],"nice":false,"zero":false},"axis":null},
    "shape":{"field":"h","type":"nominal","scale":{"domain":["L","R","U","D"],"range":["M1,-0.7L-1,0L1,0.7Z","M-1,-0.7L1,0L-1,0.7Z","M-0.7,1L0,-1L0.7,1Z","M-0.7,-1L0,1L0.7,-1Z"]},"legend":null}}},
  {"data":{"name":"tA"},"transform":[{"filter":"datum.k == 'eta'"}],"mark":{"type":"text","font":"DejaVu Serif","fontStyle":"italic","fontSize":11},
   "encoding":{"x":{"field":"x","type":"quantitative","scale":{"domain":[0,100],"range":[43,142],"nice":false,"zero":false},"axis":null},
    "y":{"field":"y","type":"quantitative","scale":{"domain":[0,100],"range":[131,32],"nice":false,"zero":false},"axis":null},"text":{"field":"t"}}},
  {"data":{"name":"tA"},"transform":[{"filter":"datum.k == 'sig'"}],"mark":{"type":"text","font":"DejaVu Serif","fontStyle":"italic","fontSize":11,"color":"#1a1aff"},
   "encoding":{"x":{"field":"x","type":"quantitative","scale":{"domain":[0,100],"range":[43,142],"nice":false,"zero":false},"axis":null},
    "y":{"field":"y","type":"quantitative","scale":{"domain":[0,100],"range":[131,32],"nice":false,"zero":false},"axis":null},"text":{"field":"t"}}},
  {"data":{"name":"tA"},"transform":[{"filter":"datum.k == 'big'"}],"mark":{"type":"text","font":"DejaVu Serif","fontSize":12},
   "encoding":{"x":{"field":"x","type":"quantitative","scale":{"domain":[0,100],"range":[43,142],"nice":false,"zero":false},"axis":null},
    "y":{"field":"y","type":"quantitative","scale":{"domain":[0,100],"range":[131,32],"nice":false,"zero":false},"axis":null},"text":{"field":"t"}}},
  {"data":{"name":"tA"},"transform":[{"filter":"datum.k == 'rot'"}],"mark":{"type":"text","font":"DejaVu Serif","fontSize":12.5,"angle":270},
   "encoding":{"x":{"field":"x","type":"quantitative","scale":{"domain":[0,100],"range":[43,142],"nice":false,"zero":false},"axis":null},
    "y":{"field":"y","type":"quantitative","scale":{"domain":[0,100],"range":[131,32],"nice":false,"zero":false},"axis":null},"text":{"field":"t"}}},
  {"data":{"name":"tA"},"transform":[{"filter":"datum.k == 'small'"}],"mark":{"type":"text","font":"DejaVu Serif","fontSize":6},
   "encoding":{"x":{"field":"x","type":"quantitative","scale":{"domain":[0,100],"range":[43,142],"nice":false,"zero":false},"axis":null},
    "y":{"field":"y","type":"quantitative","scale":{"domain":[0,100],"range":[131,32],"nice":false,"zero":false},"axis":null},"text":{"field":"t"}}}
 ]},
 {"layer":[
  {"data":{"values":[{}]},"mark":{"type":"rect","filled":false,"stroke":"black","strokeWidth":2},
   "encoding":{"x":{"datum":0,"type":"quantitative","scale":{"domain":[0,100],"range":[210,309],"nice":false,"zero":false},"axis":null},"x2":{"datum":100},
    "y":{"datum":0,"type":"quantitative","scale":{"domain":[0,100],"range":[131,32],"nice":false,"zero":false},"axis":null},"y2":{"datum":100}}},
  {"data":{"name":"circle"},"mark":{"type":"line","stroke":"black","strokeWidth":0.8,"interpolate":"cardinal"},
   "encoding":{"x":{"field":"x","type":"quantitative","scale":{"domain":[0,100],"range":[210,309],"nice":false,"zero":false},"axis":null},
    "y":{"field":"y","type":"quantitative","scale":{"domain":[0,100],"range":[131,32],"nice":false,"zero":false},"axis":null},"order":{"field":"i","type":"quantitative"}}},
  {"data":{"name":"circle"},"mark":{"type":"line","stroke":"#1a1aff","strokeWidth":2,"strokeDash":[6,5],"interpolate":"cardinal"},
   "encoding":{"x":{"field":"x","type":"quantitative","scale":{"domain":[0,100],"range":[210,309],"nice":false,"zero":false},"axis":null},
    "y":{"field":"y","type":"quantitative","scale":{"domain":[0,100],"range":[131,32],"nice":false,"zero":false},"axis":null},"order":{"field":"i","type":"quantitative"}}},
  {"data":{"name":"rB"},"transform":[{"filter":"datum.k == 'dash'"}],"mark":{"type":"rule","stroke":"#808080","strokeWidth":0.8,"strokeDash":[5,3]},
   "encoding":{"x":{"field":"x","type":"quantitative","scale":{"domain":[0,100],"range":[210,309],"nice":false,"zero":false},"axis":null},"x2":{"field":"x2"},
    "y":{"field":"y","type":"quantitative","scale":{"domain":[0,100],"range":[131,32],"nice":false,"zero":false},"axis":null},"y2":{"field":"y2"}}},
  {"data":{"name":"rB"},"transform":[{"filter":"datum.k == 'arrow'"}],"mark":{"type":"rule","stroke":"black","strokeWidth":0.8},
   "encoding":{"x":{"field":"x","type":"quantitative","scale":{"domain":[0,100],"range":[210,309],"nice":false,"zero":false},"axis":null},"x2":{"field":"x2"},
    "y":{"field":"y","type":"quantitative","scale":{"domain":[0,100],"range":[131,32],"nice":false,"zero":false},"axis":null},"y2":{"field":"y2"}}},
  {"data":{"name":"hB"},"mark":{"type":"point","filled":true,"color":"black","size":22,"opacity":1},
   "encoding":{"x":{"field":"x","type":"quantitative","scale":{"domain":[0,100],"range":[210,309],"nice":false,"zero":false},"axis":null},
    "y":{"field":"y","type":"quantitative","scale":{"domain":[0,100],"range":[131,32],"nice":false,"zero":false},"axis":null},
    "shape":{"field":"h","type":"nominal","scale":{"domain":["L","R","U","D"],"range":["M1,-0.7L-1,0L1,0.7Z","M-1,-0.7L1,0L-1,0.7Z","M-0.7,1L0,-1L0.7,1Z","M-0.7,-1L0,1L0.7,-1Z"]},"legend":null}}},
  {"data":{"name":"tB"},"transform":[{"filter":"datum.k == 'eta'"}],"mark":{"type":"text","font":"DejaVu Serif","fontStyle":"italic","fontSize":11},
   "encoding":{"x":{"field":"x","type":"quantitative","scale":{"domain":[0,100],"range":[210,309],"nice":false,"zero":false},"axis":null},
    "y":{"field":"y","type":"quantitative","scale":{"domain":[0,100],"range":[131,32],"nice":false,"zero":false},"axis":null},"text":{"field":"t"}}},
  {"data":{"name":"tB"},"transform":[{"filter":"datum.k == 'sig'"}],"mark":{"type":"text","font":"DejaVu Serif","fontStyle":"italic","fontSize":11,"color":"#1a1aff"},
   "encoding":{"x":{"field":"x","type":"quantitative","scale":{"domain":[0,100],"range":[210,309],"nice":false,"zero":false},"axis":null},
    "y":{"field":"y","type":"quantitative","scale":{"domain":[0,100],"range":[131,32],"nice":false,"zero":false},"axis":null},"text":{"field":"t"}}},
  {"data":{"name":"tB"},"transform":[{"filter":"datum.k == 'big'"}],"mark":{"type":"text","font":"DejaVu Serif","fontSize":12},
   "encoding":{"x":{"field":"x","type":"quantitative","scale":{"domain":[0,100],"range":[210,309],"nice":false,"zero":false},"axis":null},
    "y":{"field":"y","type":"quantitative","scale":{"domain":[0,100],"range":[131,32],"nice":false,"zero":false},"axis":null},"text":{"field":"t"}}},
  {"data":{"name":"tB"},"transform":[{"filter":"datum.k == 'rot'"}],"mark":{"type":"text","font":"DejaVu Serif","fontSize":12.5,"angle":270},
   "encoding":{"x":{"field":"x","type":"quantitative","scale":{"domain":[0,100],"range":[210,309],"nice":false,"zero":false},"axis":null},
    "y":{"field":"y","type":"quantitative","scale":{"domain":[0,100],"range":[131,32],"nice":false,"zero":false},"axis":null},"text":{"field":"t"}}}
 ]},
 {"layer":[
  {"data":{"values":[{}]},"mark":{"type":"rect","filled":false,"stroke":"black","strokeWidth":2},
   "encoding":{"x":{"datum":0,"type":"quantitative","scale":{"domain":[0,140],"range":[125,258],"nice":false,"zero":false},"axis":null},"x2":{"datum":140},
    "y":{"datum":0,"type":"quantitative","scale":{"domain":[0,100],"range":[259,163],"nice":false,"zero":false},"axis":null},"y2":{"datum":100}}},
  {"data":{"name":"rC"},"transform":[{"filter":"datum.k == 'sig'"}],"mark":{"type":"rule","stroke":"#1a1aff","strokeWidth":2,"strokeDash":[5,3]},
   "encoding":{"x":{"field":"x","type":"quantitative","scale":{"domain":[0,140],"range":[125,258],"nice":false,"zero":false},"axis":null},"x2":{"field":"x2"},
    "y":{"field":"y","type":"quantitative","scale":{"domain":[0,100],"range":[259,163],"nice":false,"zero":false},"axis":null},"y2":{"field":"y2"}}},
  {"data":{"name":"rC"},"transform":[{"filter":"datum.k == 'arrow'"}],"mark":{"type":"rule","stroke":"black","strokeWidth":0.8},
   "encoding":{"x":{"field":"x","type":"quantitative","scale":{"domain":[0,140],"range":[125,258],"nice":false,"zero":false},"axis":null},"x2":{"field":"x2"},
    "y":{"field":"y","type":"quantitative","scale":{"domain":[0,100],"range":[259,163],"nice":false,"zero":false},"axis":null},"y2":{"field":"y2"}}},
  {"data":{"name":"hC"},"mark":{"type":"point","filled":true,"color":"black","size":22,"opacity":1},
   "encoding":{"x":{"field":"x","type":"quantitative","scale":{"domain":[0,140],"range":[125,258],"nice":false,"zero":false},"axis":null},
    "y":{"field":"y","type":"quantitative","scale":{"domain":[0,100],"range":[259,163],"nice":false,"zero":false},"axis":null},
    "shape":{"field":"h","type":"nominal","scale":{"domain":["L","R","U","D"],"range":["M1,-0.7L-1,0L1,0.7Z","M-1,-0.7L1,0L-1,0.7Z","M-0.7,1L0,-1L0.7,1Z","M-0.7,-1L0,1L0.7,-1Z"]},"legend":null}}},
  {"data":{"name":"tC"},"transform":[{"filter":"datum.k == 'eta'"}],"mark":{"type":"text","font":"DejaVu Serif","fontStyle":"italic","fontSize":11},
   "encoding":{"x":{"field":"x","type":"quantitative","scale":{"domain":[0,140],"range":[125,258],"nice":false,"zero":false},"axis":null},
    "y":{"field":"y","type":"quantitative","scale":{"domain":[0,100],"range":[259,163],"nice":false,"zero":false},"axis":null},"text":{"field":"t"}}},
  {"data":{"name":"tC"},"transform":[{"filter":"datum.k == 'sig'"}],"mark":{"type":"text","font":"DejaVu Serif","fontStyle":"italic","fontSize":11,"color":"#1a1aff"},
   "encoding":{"x":{"field":"x","type":"quantitative","scale":{"domain":[0,140],"range":[125,258],"nice":false,"zero":false},"axis":null},
    "y":{"field":"y","type":"quantitative","scale":{"domain":[0,100],"range":[259,163],"nice":false,"zero":false},"axis":null},"text":{"field":"t"}}},
  {"data":{"name":"tC"},"transform":[{"filter":"datum.k == 'sigr'"}],"mark":{"type":"text","font":"DejaVu Serif","fontStyle":"italic","fontSize":11,"color":"#ff1f5b"},
   "encoding":{"x":{"field":"x","type":"quantitative","scale":{"domain":[0,140],"range":[125,258],"nice":false,"zero":false},"axis":null},
    "y":{"field":"y","type":"quantitative","scale":{"domain":[0,100],"range":[259,163],"nice":false,"zero":false},"axis":null},"text":{"field":"t"}}},
  {"data":{"name":"tC"},"transform":[{"filter":"datum.k == 'big'"}],"mark":{"type":"text","font":"DejaVu Serif","fontSize":12},
   "encoding":{"x":{"field":"x","type":"quantitative","scale":{"domain":[0,140],"range":[125,258],"nice":false,"zero":false},"axis":null},
    "y":{"field":"y","type":"quantitative","scale":{"domain":[0,100],"range":[259,163],"nice":false,"zero":false},"axis":null},"text":{"field":"t"}}},
  {"data":{"name":"tC"},"transform":[{"filter":"datum.k == 'rot'"}],"mark":{"type":"text","font":"DejaVu Serif","fontSize":12,"angle":270},
   "encoding":{"x":{"field":"x","type":"quantitative","scale":{"domain":[0,140],"range":[125,258],"nice":false,"zero":false},"axis":null},
    "y":{"field":"y","type":"quantitative","scale":{"domain":[0,100],"range":[259,163],"nice":false,"zero":false},"axis":null},"text":{"field":"t"}}}
 ]}
],
"resolve":{"scale":{"x":"independent","y":"independent","color":"independent","shape":"independent","strokeDash":"independent"}}
}
